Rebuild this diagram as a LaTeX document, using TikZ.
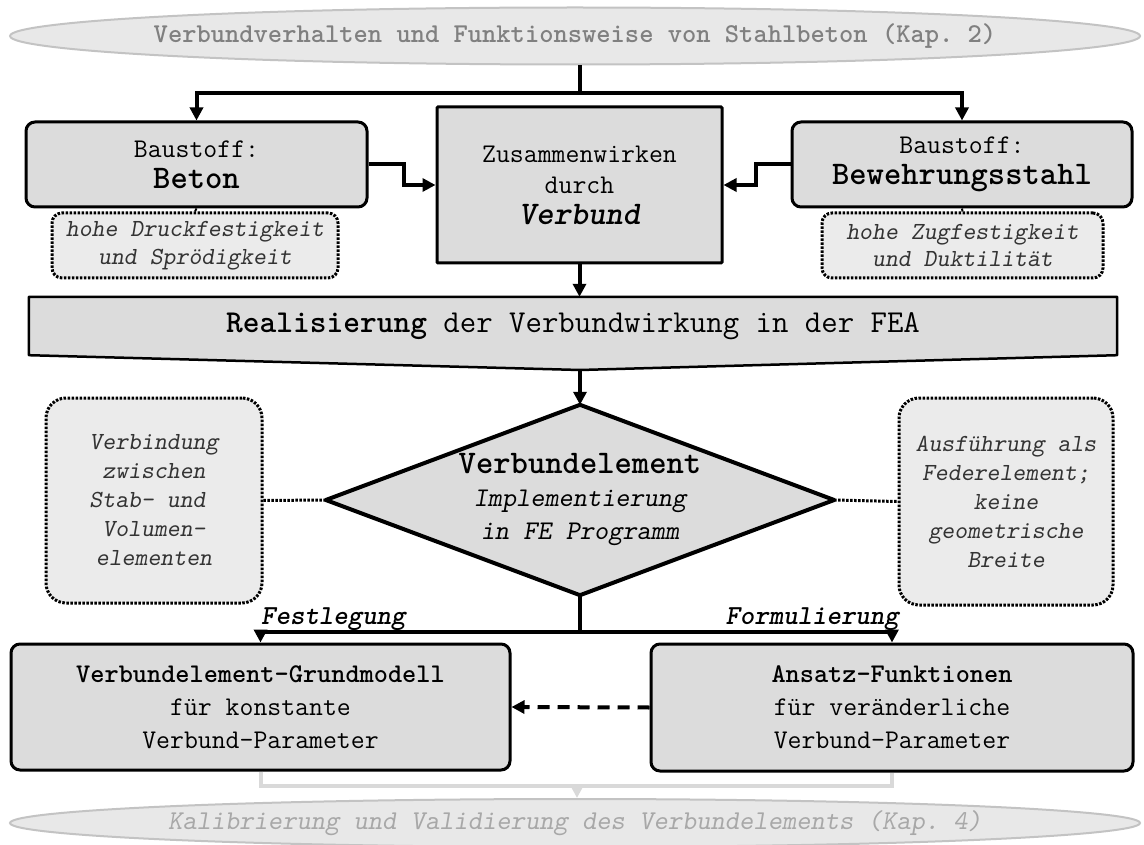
\documentclass[tikz,border=0pt]{standalone}
\usetikzlibrary{arrows.meta,shapes.geometric,backgrounds}
\definecolor{boxgray}{HTML}{DCDCDC}
\definecolor{notegray}{HTML}{EBEBEB}
\definecolor{ellfill}{HTML}{E8E8E8}
\definecolor{elldraw}{HTML}{C3C3C3}
\definecolor{toptext}{HTML}{808080}
\definecolor{bottext}{HTML}{A8A8A8}
\definecolor{graylink}{HTML}{D9D9D9}
\definecolor{notetext}{HTML}{333333}
\newcommand{\myfs}[2]{\fontsize{#1}{#2}\ttfamily\selectfont}
\tikzset{
  ell/.style={ellipse, draw=elldraw, line width=2pt, fill=ellfill, minimum width=1130pt, inner sep=0pt},
  elltext/.style={inner sep=0pt},
  box/.style={draw=black, line width=3pt, fill=boxgray, rounded corners=9pt, align=center, inner sep=0pt,
    font=\myfs{27}{32}},
  note/.style={draw=black, line width=3pt, dash pattern=on 2.5pt off 1.5pt, fill=notegray, rounded corners=10pt,
    align=center, inner sep=0pt, text=notetext, font=\myfs{24.6}{27.5}\slshape},
  bignote/.style={note, rounded corners=20pt, font=\myfs{24.6}{29}\slshape},
  conn/.style={line width=4pt, -{Triangle[length=13pt,width=13pt]}},
  plain/.style={line width=4pt},
  dotlink/.style={line width=3pt, dash pattern=on 2.5pt off 1.5pt},
  edgelabel/.style={inner sep=0pt, font=\myfs{27.5}{28}\bfseries\slshape}
}
\begin{document}
\frenchspacing
\begin{tikzpicture}[x=1pt,y=-1pt]
\useasboundingbox (0,0) rectangle (1144,845);

% top and bottom ellipses
\node[ell, minimum height=57pt] (top) at (575,36) {};
\node[elltext, text=toptext, font=\myfs{27.2}{30}\bfseries] (toptxt) at (top.center)
  {Verbundverhalten und Funktionsweise von Stahlbeton (Kap. 2)};
\node[ell, minimum height=48pt] (bot) at (575,823) {};
\node[elltext, text=bottext, font=\myfs{27.2}{30}\slshape] (bottxt) at (bot.center)
  {Kalibrierung und Validierung des Verbundelements (Kap. 4)};

% upper row
\node[box, minimum width=341pt, minimum height=85pt] (beton) at (196.5,164.5)
  {Baustoff:\\[-1pt]{\myfs{33}{32}\bfseries Beton}};
\node[box, rounded corners=1pt, minimum width=285pt, minimum height=156pt] (verbund) at (579.5,185)
  {Zusammenwirken\\[-1pt]durch\\[-1pt]{\myfs{33}{32}\bfseries\slshape Verbund}};
\node[box, minimum width=340pt, minimum height=85pt] (stahl) at (962,164.5)
  {Baustoff:\\[-1pt]{\myfs{33}{32}\bfseries Bewehrungsstahl}};

\node[note, minimum width=286pt, minimum height=65pt] (nbeton) at (195,245.5)
  {hohe Druckfestigkeit\\und Sprödigkeit};
\node[note, minimum width=281pt, minimum height=65pt] (nstahl) at (962.5,245.5)
  {hohe Zugfestigkeit\\und Duktilität};

% banner
\node[inner sep=0pt, minimum width=1088pt, minimum height=58pt, font=\myfs{31.9}{32}] (fea) at (573,326)
  {\textbf{Realisierung} der Verbundwirkung in der FEA};
\coordinate (featip) at (580,370);
\begin{scope}[on background layer]
  \draw[line width=2.5pt, fill=boxgray, line join=round] (fea.north west) -- (fea.north east) -- (fea.south east)
    -- (featip) -- (fea.south west) -- cycle;
\end{scope}

% diamond
\node[inner sep=0pt, minimum width=508pt, minimum height=190pt, align=center,
  font=\myfs{27}{33}\slshape] (ve) at (580,500)
  {{\myfs{33}{33}\bfseries\upshape Verbundelement}\\Implementierung\\in FE Programm};
\begin{scope}[on background layer]
  \draw[line width=4pt, fill=boxgray, line join=round] (ve.north) -- (ve.east) -- (ve.south) -- (ve.west) -- cycle;
\end{scope}

\node[bignote, minimum width=216pt, minimum height=205pt] (nleft) at (154,500.5)
  {Verbindung\\zwischen\\Stab- und\phantom{x}\\Volumen-\\elementen};
\node[bignote, minimum width=214pt, minimum height=207pt] (nright) at (1006,501.5)
  {Ausführung als\\Federelement;\\keine\\geometrische\\Breite};

% lower row
\node[box, minimum width=499pt, minimum height=126pt, font=\myfs{27}{33}] (grund) at (260.5,707)
  {\textbf{Verbundelement-Grundmodell}\\für konstante\\Verbund-Parameter};
\node[box, minimum width=482pt, minimum height=127pt, font=\myfs{27}{33}] (ansatz) at (892,707.5)
  {\textbf{Ansatz-Funktionen}\\für veränderliche\\Verbund-Parameter};

% connectors: top part
\coordinate (split) at (580,93);
\draw[plain] (split |- top.south) -- (split);
\draw[conn] (split) -| (beton.north);
\draw[conn] (split) -| (stahl.north);
\draw[conn] (beton.east) -- ++(35,0) |- (verbund.west);
\draw[conn] (stahl.west) -- ++(-35,0) |- (verbund.east);
\draw[line width=2pt] (beton.south) -- (nbeton.north);
\draw[line width=2pt] (stahl.south) -- (nstahl.north);
\draw[conn] (verbund.south) -- (verbund.south |- fea.north);
\draw[conn] (featip) -- (ve.north);

% diamond side notes
\draw[dotlink] (ve.west) -- (nleft.east);
\draw[dotlink] (ve.east) -- (nright.west);

% lower split
\coordinate (split2) at (580,632);
\draw[plain] (ve.south) -- (split2);
\draw[conn] (split2) -| (grund.north);
\draw[conn] (split2) -| (ansatz.north);
\node[edgelabel, anchor=base west] (lfest) at (261,624) {Festlegung};
\node[edgelabel, anchor=base east] (lform) at (899,624) {Formulierung};
\draw[line width=4pt, dash pattern=on 12pt off 8pt, -{Triangle[length=13pt,width=13pt]}] (ansatz.west) -- (grund.east);

% gray link to bottom
\coordinate (split3) at (577,786);
\draw[graylink, line width=4pt] (grund.south) |- (split3) -| (ansatz.south);
\draw[graylink, line width=4pt, -{Triangle[length=13pt,width=13pt]}] (split3) -- (split3 |- bot.north);
\end{tikzpicture}
\end{document}
